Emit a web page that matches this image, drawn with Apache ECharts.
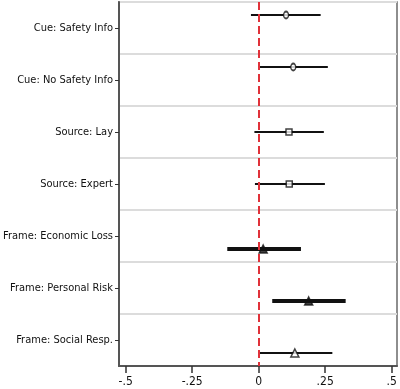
<!DOCTYPE html>
<html><head><meta charset="utf-8">
<script src="https://cdn.jsdelivr.net/npm/echarts@6/dist/echarts.min.js"></script>
<style>html,body{margin:0;padding:0;background:#fff}#c{width:400px;height:389px}</style>
</head><body><div id="c"></div>
<script>
const categories = ['Cue: Safety Info','Cue: No Safety Info','Source: Lay','Source: Expert','Frame: Economic Loss','Frame: Personal Risk','Frame: Social Resp.'];
const estimates = [0.103, 0.130, 0.114, 0.115, 0.017, 0.188, 0.136];
const ciLow = [-0.029, 0.000, -0.016, -0.014, -0.118, 0.051, 0.000];
const ciHigh = [0.233, 0.260, 0.245, 0.249, 0.159, 0.327, 0.277];
const xTicks = [-0.5, -0.25, 0, 0.25, 0.5];
const xTickLabels = ['-.5', '-.25', '0', '.25', '.5'];

const rowOffset = [0.25, 0.25, 0.5, 0.5, 0.75, 0.75, 0.75];
const rowSymbol = ['circle','circle','rect','rect','triangle','triangle','triangle'];
const rowFilled = [false,false,false,false,true,true,false];
const rowThick = [false,false,false,false,true,true,false];

const FONT = '"DejaVu Sans Condensed", "Liberation Sans", sans-serif';
const chart = echarts.init(document.getElementById('c'), null, {renderer:'canvas'});

const barData = categories.map((c,i)=>[ciLow[i], ciHigh[i], i + rowOffset[i], rowThick[i] ? 4 : 2]);
const ptData = categories.map((c,i)=>({
  value:[estimates[i], i + rowOffset[i]],
  symbol: rowSymbol[i],
  symbolSize: rowSymbol[i]==='circle' ? [5,7] : (rowSymbol[i]==='rect' ? 6 : 8),
  itemStyle:{color: rowFilled[i] ? '#111' : '#fff', borderColor:'#111', borderWidth:1.5}
}));

chart.setOption({
  animation:false,
  grid:{left:119, right:3, top:2, bottom:23, show:true, borderColor:'#6a6a6a', borderWidth:1.5, backgroundColor:'#fff'},
  xAxis:{type:'value', min:-0.525, max:0.52, position:'bottom',
    axisLine:{show:true, onZero:false, lineStyle:{color:'#555', width:2}},
    axisTick:{show:true, length:7, lineStyle:{color:'#333', width:1.5}, customValues: xTicks},
    axisLabel:{show:true, margin:10, fontFamily:FONT, fontSize:12, color:'#111', customValues: xTicks,
      formatter:v=>{const k=xTicks.findIndex(t=>Math.abs(t-v)<1e-9);return k>=0?xTickLabels[k]:'';}},
    splitLine:{show:false}},
  yAxis:[
    {type:'category', inverse:true, data:categories, boundaryGap:true, position:'left',
     axisLine:{show:true, onZero:false, lineStyle:{color:'#555', width:2}},
     axisTick:{show:true, alignWithLabel:true, length:4, lineStyle:{color:'#333', width:1}},
     axisLabel:{fontFamily:FONT, fontSize:11, color:'#111', margin:6},
     splitLine:{show:true, lineStyle:{color:'#dcdcdc', width:2}}},
    {type:'value', inverse:true, min:0, max:categories.length, show:false}
  ],
  series:[
    {type:'custom', yAxisIndex:1, data:barData, z:3,
     encode:{x:[0,1], y:2},
     renderItem:(params, api)=>{
       const a = api.coord([api.value(0), api.value(2)]);
       const b = api.coord([api.value(1), api.value(2)]);
       return {type:'line', shape:{x1:a[0], y1:a[1], x2:b[0], y2:b[1]}, style:{stroke:'#111', lineWidth:api.value(3)}};
     }},
    {type:'scatter', yAxisIndex:1, data:ptData, z:5,
     markLine:{silent:true, symbol:'none', label:{show:false}, z:4,
       lineStyle:{color:'#e0323a', width:2, type:[8,4]},
       data:[{xAxis:0}]}}
  ]
});
</script></body></html>
